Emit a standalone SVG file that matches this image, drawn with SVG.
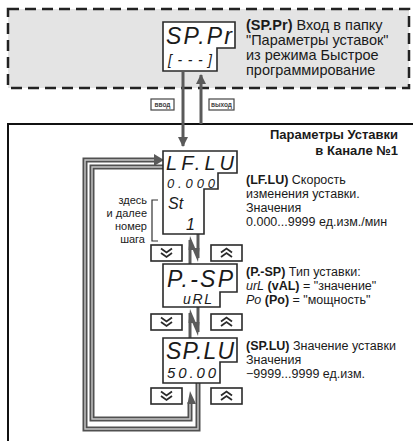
<svg xmlns="http://www.w3.org/2000/svg" width="413" height="441" viewBox="0 0 413 441">
<style>
.t{font-family:"Liberation Sans",Arial,sans-serif;font-size:12.5px;fill:#1a1a1a}
.tt{font-family:"Liberation Sans",Arial,sans-serif;font-size:14.5px;fill:#1a1a1a}
.ti{font-family:"Liberation Sans",Arial,sans-serif;font-size:13px;fill:#1a1a1a;font-weight:bold}
.b{font-weight:bold}
.s{font-family:"Liberation Sans",Arial,sans-serif;font-size:11px;fill:#1a1a1a}
.d{font-family:"Liberation Sans",Arial,sans-serif;font-style:italic;fill:#1a1a1a}
.box{fill:#fff;stroke:#2a2a2a;stroke-width:1.6}
.btn{fill:#fff;stroke:#2a2a2a;stroke-width:1.6}
.chev{fill:none;stroke:#2a2a2a;stroke-width:1.8}
.lab{fill:#fff;stroke:#444;stroke-width:1.2}
.labt{font-family:"Liberation Sans",Arial,sans-serif;font-size:6.5px;font-weight:bold;fill:#444}
.pipeo{fill:none;stroke:#505050;stroke-width:5}
.pipei{fill:none;stroke:#c8c8c8;stroke-width:1.4}
.ln{fill:none;stroke:#5a5a5a;stroke-width:3}
.hd{fill:#5a5a5a}
</style>
<defs>
<marker id="ah" viewBox="0 0 10 10" refX="9" refY="5" markerWidth="3.4" markerHeight="3.4" orient="auto" markerUnits="strokeWidth">
<path d="M0,0 L10,5 L0,10 Z" fill="#5a5a5a"/>
</marker>
</defs>

<rect x="8" y="9" width="401" height="79" fill="#e4e4e4" stroke="#222" stroke-width="2.5" stroke-dasharray="11 6"/>
<path d="M413,124 H8 V441" fill="none" stroke="#111" stroke-width="2"/>

<g id="spPr">
<path class="box" d="M163,22 H235 V48 H217 V71 H163 Z"/>
<text class="d" x="166" y="44" font-size="23" textLength="66" lengthAdjust="spacing">SP.Pr</text>
<text class="d" x="168" y="65" font-size="14" textLength="44" lengthAdjust="spacing">[---]</text>
<text class="tt" x="246" y="30"><tspan class="b">(SP.Pr)</tspan> Вход в папку</text>
<text class="tt" x="246" y="45">"Параметры уставок"</text>
<text class="tt" x="246" y="60">из режима Быстрое</text>
<text class="tt" x="246" y="75">программирование</text>
</g>

<g id="labels">
<rect class="lab" x="151" y="99" width="23" height="11"/>
<text class="labt" x="162.5" y="107" text-anchor="middle">ввод</text>
<rect class="lab" x="209" y="99" width="25" height="11"/>
<text class="labt" x="221.5" y="107" text-anchor="middle">выход</text>
</g>

<g id="title">
<text class="ti" x="398" y="139" text-anchor="end">Параметры Уставки</text>
<text class="ti" x="398" y="155" text-anchor="end">в Канале №1</text>
</g>

<g id="connectors">
<line class="ln" x1="183" y1="71" x2="183" y2="146" marker-end="url(#ah)"/>
<line class="ln" x1="201" y1="124" x2="201" y2="75" marker-end="url(#ah)"/>
<path class="pipeo" d="M198,383 V429 H85 V160 H156"/>
<path class="pipei" d="M198,383 V429 H85 V160 H156"/>
<path class="hd" d="M154,154 L164,160 L154,166 Z"/>
<path class="pipeo" d="M163,167 H92 V419 H190 V402"/>
<path class="pipei" d="M163,167 H92 V419 H190 V402"/>
<path class="hd" d="M187.5,404 L190,391 L196,404 Z"/>
<line class="ln" x1="190" y1="264" x2="190" y2="240"/>
<path class="hd" d="M188.5,250 L190,236 L196,250 Z"/>
<line class="ln" x1="198" y1="234" x2="198" y2="258"/>
<path class="hd" d="M199.5,248 L198,262 L192,248 Z"/>
<line class="ln" x1="190" y1="338" x2="190" y2="313"/>
<path class="hd" d="M188.5,323 L190,309 L196,323 Z"/>
<line class="ln" x1="198" y1="307" x2="198" y2="332"/>
<path class="hd" d="M199.5,322 L198,336 L192,322 Z"/>
</g>

<g id="lflu">
<path class="box" d="M163,151 H237 V173 H218 V189 H204 V234 H163 Z"/>
<text class="d" x="166" y="170" font-size="20" textLength="68" lengthAdjust="spacing">LF.LU</text>
<text class="d" x="167" y="187.5" font-size="13" textLength="48" lengthAdjust="spacing">0.000</text>
<text class="d" x="168" y="209" font-size="16">St</text>
<text class="d" x="186" y="230" font-size="16">1</text>
<text class="t" x="246" y="184"><tspan class="b">(LF.LU)</tspan> Скорость</text>
<text class="t" x="246" y="198">изменения  уставки.</text>
<text class="t" x="246" y="212">Значения</text>
<text class="t" x="246" y="226">0.000...9999 ед.изм./мин</text>
</g>

<g id="note">
<path d="M158,200 H152 V241 H158" fill="none" stroke="#333" stroke-width="1.2"/>
<text class="s" x="147" y="204" text-anchor="end">здесь</text>
<text class="s" x="147" y="217" text-anchor="end">и далее</text>
<text class="s" x="147" y="230" text-anchor="end">номер</text>
<text class="s" x="145" y="243" text-anchor="end">шага</text>
</g>

<g id="btn1">
<rect class="btn" x="151" y="245" width="31" height="16"/>
<path class="chev" d="M161,248.5 L166.5,252.5 L172,248.5 M161,253 L166.5,257 L172,253"/>
<rect class="btn" x="211" y="245" width="31" height="16"/>
<path class="chev" d="M221,252.5 L226.5,248.5 L232,252.5 M221,257 L226.5,253 L232,257"/>
</g>

<g id="psp">
<path class="box" d="M163,264 H237 V292 H220 V307 H163 Z"/>
<text class="d" x="167" y="287" font-size="23" textLength="66" lengthAdjust="spacing">P.-SP</text>
<text class="d" x="183" y="304" font-size="14" textLength="29" lengthAdjust="spacing">uRL</text>
<text class="t" x="246" y="276"><tspan class="b">(P.-SP)</tspan> Тип  уставки:</text>
<text class="t" x="246" y="290"><tspan font-style="italic">urL</tspan> <tspan class="b">(vAL)</tspan> = "значение"</text>
<text class="t" x="246" y="304"><tspan font-style="italic">Po</tspan>    <tspan class="b">(Po)</tspan> = "мощность"</text>
</g>

<g id="btn2">
<rect class="btn" x="151" y="314" width="31" height="16"/>
<path class="chev" d="M161,317.5 L166.5,321.5 L172,317.5 M161,322 L166.5,326 L172,322"/>
<rect class="btn" x="211" y="314" width="31" height="16"/>
<path class="chev" d="M221,321.5 L226.5,317.5 L232,321.5 M221,326 L226.5,322 L232,326"/>
</g>

<g id="splu">
<path class="box" d="M163,338 H237 V362 H220 V383 H163 Z"/>
<text class="d" x="166" y="359" font-size="23" textLength="68" lengthAdjust="spacing">SP.LU</text>
<text class="d" x="167" y="378" font-size="15" textLength="49" lengthAdjust="spacing">50.00</text>
<text class="t" x="246" y="350"><tspan class="b">(SP.LU)</tspan> Значение уставки</text>
<text class="t" x="246" y="364">Значения</text>
<text class="t" x="246" y="378">−9999...9999 ед.изм.</text>
</g>

<g id="btn3">
<rect class="btn" x="151" y="388" width="31" height="16"/>
<path class="chev" d="M161,391.5 L166.5,395.5 L172,391.5 M161,396 L166.5,400 L172,396"/>
<rect class="btn" x="211" y="388" width="31" height="16"/>
<path class="chev" d="M221,395.5 L226.5,391.5 L232,395.5 M221,400 L226.5,396 L232,400"/>
</g>
</svg>
